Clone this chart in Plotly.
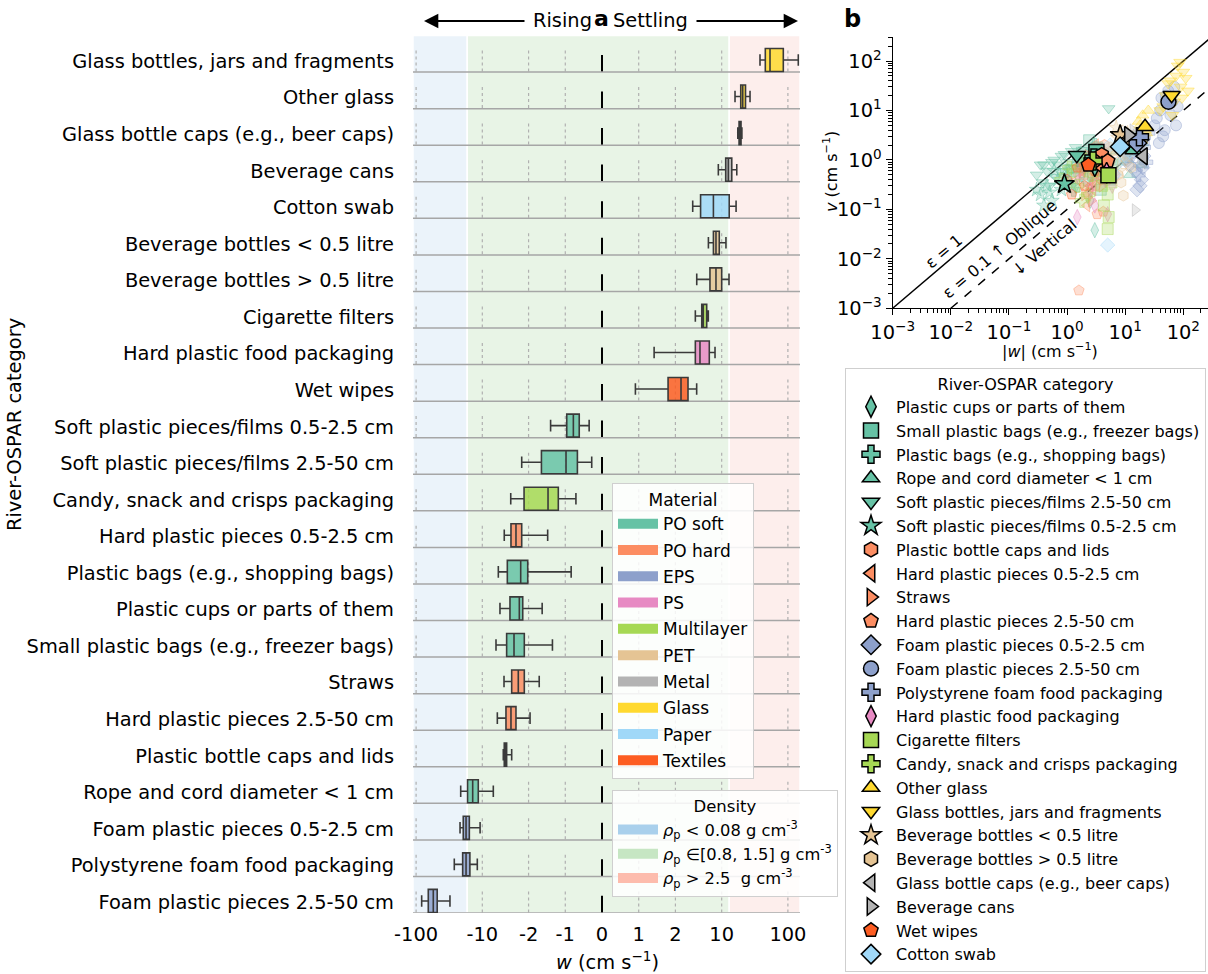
import numpy as np
import plotly.graph_objects as go

W, H = 1208, 974
FONT = "DejaVu Sans"
FS = 19.4

# ---------------- Panel a data ----------------
categories = [
    "Glass bottles, jars and fragments", "Other glass", "Glass bottle caps (e.g., beer caps)",
    "Beverage cans", "Cotton swab", "Beverage bottles < 0.5 litre", "Beverage bottles > 0.5 litre",
    "Cigarette filters", "Hard plastic food packaging", "Wet wipes",
    "Soft plastic pieces/films 0.5-2.5 cm", "Soft plastic pieces/films 2.5-50 cm",
    "Candy, snack and crisps packaging", "Hard plastic pieces 0.5-2.5 cm",
    "Plastic bags (e.g., shopping bags)", "Plastic cups or parts of them",
    "Small plastic bags (e.g., freezer bags)", "Straws", "Hard plastic pieces 2.5-50 cm",
    "Plastic bottle caps and lids", "Rope and cord diameter < 1 cm",
    "Foam plastic pieces 0.5-2.5 cm", "Polystyrene foam food packaging", "Foam plastic pieces 2.5-50 cm",
]
category_material = [
    "Glass", "Glass", "Metal", "Metal", "Paper", "PET", "PET", "Multilayer", "PS", "Textiles",
    "PO soft", "PO soft", "Multilayer", "PO hard", "PO soft", "PO soft", "PO soft", "PO hard",
    "PO hard", "PO hard", "PO soft", "EPS", "EPS", "EPS",
]
w_lower = [37.9, 15.9, 17.5, 8.9, 3.65, 6.3, 4.2, 4.0, 1.42, 0.91, -1.40, -2.54, -3.72, -4.66,
           -5.73, -5.41, -6.21, -4.70, -5.93, -4.82, -21.2, -21.7, -26.5, -82.4]
w_q1 = [45.6, 19.4, 18.3, 11.5, 4.8, 7.5, 6.65, 5.0, 4.0, 1.80, -0.96, -1.65, -2.34, -3.69,
        -4.19, -3.82, -4.29, -3.60, -4.39, -4.66, -16.7, -19.4, -19.8, -65.5]
w_median = [53.7, 20.8, 19.0, 12.6, 7.5, 8.2, 8.2, 5.27, 4.7, 2.43, -0.78, -0.98, -1.47, -3.10,
            -2.63, -2.76, -3.32, -2.86, -3.69, -4.5, -13.97, -17.6, -17.6, -55.0]
w_q3 = [85.3, 22.9, 19.6, 14.2, 13.0, 9.2, 10.0, 5.94, 6.5, 3.1, -0.62, -0.67, -1.19, -2.54,
        -2.06, -2.45, -2.32, -2.32, -3.10, -4.29, -11.5, -15.7, -15.4, -48.0]
w_upper = [143.6, 26.8, 20.2, 16.9, 16.5, 11.6, 12.9, 6.28, 7.93, 4.19, -0.35, -0.28, -0.71, -1.48,
           -0.84, -1.63, -1.35, -1.71, -1.96, -3.60, -6.82, -10.8, -11.9, -30.8]

material_names = ["PO soft", "PO hard", "EPS", "PS", "Multilayer", "PET", "Metal", "Glass", "Paper", "Textiles"]
material_colors = ["#66c2a5", "#fc8d62", "#8da0cb", "#e78ac3", "#a6d854", "#e5c494", "#b3b3b3",
                   "#ffd92f", "#a0d8f8", "#fd5d22"]

density_labels = [
    "<i>ρ</i><sub>p</sub> &lt; 0.08 g cm<sup>-3</sup>",
    "<i>ρ</i><sub>p</sub> ∈[0.8, 1.5] g cm<sup>-3</sup>",
    "<i>ρ</i><sub>p</sub> &gt; 2.5  g cm<sup>-3</sup>",
]
density_swatch_colors = ["#a9d0ec", "#c6e6c3", "#fdbcad"]
density_region_colors = ["#ebf3fa", "#e8f4e6", "#fdeeec"]
density_w_low = [-111.4, -16.9, 13.0]
density_w_high = [-16.9, 13.0, 152.4]
x_range_w = [-111.4, 152.4]

xtick_w = [-100, -10, -2, -1, 0, 1, 2, 10, 100]
xtick_text = ["-100", "-10", "-2", "-1", "0", "1", "2", "10", "100"]

# ---------------- Panel b data ----------------
b_categories = [
    "Plastic cups or parts of them", "Small plastic bags (e.g., freezer bags)",
    "Plastic bags (e.g., shopping bags)", "Rope and cord diameter < 1 cm",
    "Soft plastic pieces/films 2.5-50 cm", "Soft plastic pieces/films 0.5-2.5 cm",
    "Plastic bottle caps and lids", "Hard plastic pieces 0.5-2.5 cm", "Straws",
    "Hard plastic pieces 2.5-50 cm", "Foam plastic pieces 0.5-2.5 cm", "Foam plastic pieces 2.5-50 cm",
    "Polystyrene foam food packaging", "Hard plastic food packaging", "Cigarette filters",
    "Candy, snack and crisps packaging", "Other glass", "Glass bottles, jars and fragments",
    "Beverage bottles < 0.5 litre", "Beverage bottles > 0.5 litre",
    "Glass bottle caps (e.g., beer caps)", "Beverage cans", "Wet wipes", "Cotton swab",
]
b_symbols = ["diamond-tall", "square", "cross", "triangle-up", "triangle-down", "star",
             "hexagon", "triangle-left", "triangle-right", "pentagon", "diamond", "circle",
             "cross", "diamond-tall", "square", "cross", "triangle-up", "triangle-down",
             "star", "hexagon", "triangle-left", "triangle-right", "pentagon", "diamond"]
mean_w = [3.0, 3.2, 2.9, 13.9, 1.47, 0.90, 3.95, 3.5, 3.3, 5.0, 16, 55.6, 17.6, 4.8, 5.15, 2.8,
          22, 63, 8.2, 9.0, 20.6, 11.4, 2.33, 8.2]
mean_v = [0.75, 1.45, 1.1, 1.58, 1.25, 0.325, 1.25, 0.8, 0.95, 0.95, 2.2, 15, 2.94, 0.55, 0.49,
          0.95, 4.7, 20.4, 3.2, 2.0, 1.19, 3.18, 0.79, 1.85]
cloud_w = [
    [1.8, 2.2, 2.8, 3.2, 4.0, 5.0, 2.5, 3.0, 1.4, 2.0, 3.6, 4.5],
    [1.5, 2.0, 2.8, 3.3, 4.5, 5.5, 2.4, 3.8, 1.2, 1.8, 2.6, 4.0],
    [1.0, 1.6, 2.1, 2.7, 3.5, 4.5, 1.3, 5.2, 0.9, 1.9, 3.0],
    [7, 9, 11, 14, 16, 19, 12, 20, 8, 10, 17],
    [0.3, 0.4, 0.5, 0.6, 0.75, 0.9, 1.1, 1.4, 1.8, 2.3, 5.2, 0.35, 0.45, 0.55, 0.65, 0.8,
     1.0, 1.2, 1.6, 0.38, 0.7, 2.0],
    [0.35, 0.45, 0.55, 0.7, 0.8, 1.0, 1.2, 0.6, 0.4, 0.5, 0.9, 0.3],
    [3.7, 4.2, 4.6, 4.0, 4.4, 3.9, 4.1, 4.5],
    [1.5, 2.0, 2.5, 3.0, 3.5, 4.2, 2.2, 3.1, 1.8, 2.8, 3.8],
    [1.8, 2.3, 2.8, 3.4, 4.0, 4.5, 2.6, 2.0, 3.0],
    [2.0, 2.6, 3.1, 3.7, 4.4, 5.5, 4.2, 1.6, 3.3, 2.3, 4.9],
    [11, 13, 15, 17, 19, 21, 16, 14, 12, 18, 20],
    [32, 40, 45, 50, 60, 70, 80, 38, 55, 75, 35, 48, 65, 42],
    [12, 15, 18, 21, 25, 17, 23, 14, 20],
    [1.5, 2.5, 3.5, 4.5, 5.5, 7.0, 1.5, 5.0, 3.0, 6.0],
    [4.0, 4.5, 5.0, 5.5, 6.0, 5.0, 5.2, 4.3, 5.8],
    [0.8, 1.1, 1.5, 2.0, 2.6, 3.2, 1.8, 1.3, 2.3],
    [16, 18, 20, 22, 25, 19, 17, 23],
    [40, 50, 60, 70, 80, 90, 100, 120, 65, 88, 45, 55, 75, 95, 110],
    [6.5, 7.5, 8.5, 9.5, 11, 8, 7, 10],
    [4.5, 6, 7.5, 9, 11, 12.5, 9.3, 5.5, 8.5],
    [18.5, 19, 19.5, 18.8, 19.2, 19.8],
    [9, 10.5, 12, 13.5, 15, 14.8, 11, 16],
    [1.0, 1.5, 2.0, 2.5, 3.0, 3.8, 1.2, 2.8],
    [4, 5.5, 7, 9, 12, 15, 5.0, 6.5, 10],
]
cloud_v = [
    [0.5, 0.9, 0.35, 1.2, 0.6, 0.8, 0.15, 0.038, 0.3, 0.7, 0.45, 1.0],
    [0.7, 1.1, 0.5, 1.8, 0.9, 0.4, 2.5, 0.25, 0.6, 1.4, 0.8, 0.6],
    [0.6, 1.0, 0.4, 1.5, 0.7, 1.2, 0.25, 0.5, 0.35, 0.8, 2.0],
    [1.5, 2.5, 1.0, 3.0, 1.4, 0.8, 0.5, 2.2, 0.9, 1.8, 2.8],
    [0.5, 0.8, 0.3, 1.0, 0.6, 1.3, 0.9, 1.8, 0.7, 1.1, 11, 0.8, 0.6, 0.9, 0.45, 1.2,
     0.7, 1.5, 1.0, 0.35, 0.8, 1.6],
    [0.2, 0.3, 0.15, 0.4, 0.25, 0.5, 0.3, 0.6, 0.12, 0.22, 0.35, 0.25],
    [0.8, 1.5, 0.6, 1.1, 2.0, 0.4, 0.9, 1.3],
    [0.4, 0.8, 0.3, 1.0, 0.5, 0.9, 0.12, 2.0, 0.6, 0.25, 0.7],
    [0.6, 1.2, 0.4, 0.9, 0.3, 0.7, 0.15, 0.2, 0.5],
    [0.5, 0.9, 0.3, 1.3, 0.6, 0.9, 0.09, 0.0023, 0.08, 0.2, 0.4],
    [1.0, 2.0, 0.6, 1.5, 0.4, 1.2, 0.25, 3.0, 0.8, 0.3, 0.7],
    [5, 10, 3, 20, 8, 30, 12, 2.2, 25, 5, 7, 4, 15, 18],
    [1.2, 2.5, 0.8, 1.8, 3.5, 0.5, 0.9, 1.5, 2.2],
    [0.5, 0.25, 0.7, 0.4, 0.9, 0.5, 0.07, 0.08, 0.12, 0.3],
    [0.3, 0.6, 0.2, 0.45, 0.8, 0.04, 0.07, 0.12, 0.35],
    [0.4, 0.7, 0.3, 1.0, 0.5, 0.8, 0.15, 0.6, 0.2],
    [3, 5, 8, 4, 10, 2.5, 6, 3.5],
    [10, 20, 40, 15, 80, 30, 60, 25, 8, 95, 12, 35, 50, 18, 45],
    [1.5, 2.8, 1.0, 2.0, 3.5, 0.6, 4.5, 1.2],
    [0.8, 1.5, 0.5, 2.5, 1.2, 0.7, 0.19, 1.8, 0.35],
    [1.5, 2.5, 0.9, 3.5, 1.2, 2.0],
    [2, 3.5, 1.5, 4, 2.5, 0.097, 1.0, 1.8],
    [0.4, 0.7, 0.3, 1.0, 0.6, 0.9, 0.2, 1.4],
    [1.0, 2.0, 0.8, 3.0, 1.5, 2.5, 0.019, 0.5, 1.2],
]
eps_values = [1.0, 0.1]
eps_dash = ["solid", "dash"]
b_exponents = [-3, -2, -1, 0, 1, 2]

# ---------------- helpers ----------------
LIN = 1.109  # width of the linear part |w|<=2 in decade units (symlog, linthresh 2)


def T(w):
    w = np.asarray(w, dtype=float)
    a = np.abs(w)
    return np.sign(w) * np.where(a <= 2, a / 2 * LIN, LIN + np.log10(np.maximum(a, 1e-12) / 2))


def rgba(hexc, a):
    h = hexc.lstrip("#")
    return f"rgba({int(h[0:2], 16)},{int(h[2:4], 16)},{int(h[4:6], 16)},{a})"


def px(x):
    return x / W


def py(y):
    return 1 - y / H


mat_color = dict(zip(material_names, material_colors))
fig = go.Figure()

# ---------------- Panel a: boxes ----------------
for k, cat in enumerate(categories):
    m = category_material[k]
    col = mat_color[m]
    fig.add_trace(go.Box(
        y=[k + 0.17],
        q1=[float(T(w_q1[k]))], median=[float(T(w_median[k]))], q3=[float(T(w_q3[k]))],
        lowerfence=[float(T(w_lower[k]))], upperfence=[float(T(w_upper[k]))],
        orientation="h", width=0.63, whiskerwidth=0.5,
        fillcolor=rgba(col, 0.85), line=dict(color="#3a3a3a", width=1.6),
        name=cat, legendgroup="m" + m, showlegend=False, boxpoints=False, hoverinfo="skip",
        xaxis="x", yaxis="y",
    ))

# legend swatches (Material, Density)
for r, (m, col) in enumerate(zip(material_names, material_colors)):
    fig.add_trace(go.Scatter(x=[None], y=[None], mode="lines", name=m, legend="legend",
                             line=dict(color=col, width=10), legendgroup="m" + m, legendrank=r,
                             xaxis="x", yaxis="y", showlegend=True))
for r, (name, col) in enumerate(zip(density_labels, density_swatch_colors)):
    fig.add_trace(go.Scatter(x=[None], y=[None], mode="lines", name=name, legend="legend2",
                             line=dict(color=col, width=10), legendgroup="d%d" % r, legendrank=r,
                             xaxis="x", yaxis="y", showlegend=True))

# ---------------- Panel a: decorations (shapes) ----------------
shapes = []
for lo, hi, col in zip(density_w_low, density_w_high, density_region_colors):
    shapes.append(dict(type="rect", xref="x", yref="y domain", x0=float(T(lo)), x1=float(T(hi)),
                       y0=0, y1=1, fillcolor=col, line=dict(color="white", width=1.5), layer="below"))
n_rows = len(categories)
for k in range(n_rows):
    for g in xtick_w:
        if g == 0:
            continue
        shapes.append(dict(type="line", xref="x", yref="y", x0=float(T(g)), x1=float(T(g)),
                           y0=k - 0.09, y1=k + 0.5,
                           line=dict(color="#b0b0b0", width=1.2, dash="3px,3px"), layer="below"))
    shapes.append(dict(type="line", xref="x", yref="y", x0=0, x1=0, y0=k + 0.03, y1=k + 0.5,
                       line=dict(color="black", width=2), layer="below"))
    shapes.append(dict(type="line", xref="x", yref="y", x0=float(T(x_range_w[0])),
                       x1=float(T(x_range_w[1])), y0=k + 0.5, y1=k + 0.5,
                       line=dict(color="#a6a6a6", width=1.5), layer="below"))

# ---------------- Panel b ----------------
for eps, dsh in zip(eps_values, eps_dash):
    xs = np.array([1e-3 / eps, 1e3])
    fig.add_trace(go.Scatter(x=xs, y=eps * xs, mode="lines", xaxis="x2", yaxis="y2",
                             line=dict(color="black", width=1.5, dash=dsh),
                             showlegend=False, hoverinfo="skip"))

b_mat = [category_material[categories.index(c)] for c in b_categories]
for i, cat in enumerate(b_categories):
    col = mat_color[b_mat[i]]
    fig.add_trace(go.Scatter(
        x=cloud_w[i], y=cloud_v[i], mode="markers", xaxis="x2", yaxis="y2",
        marker=dict(symbol=b_symbols[i], size=11, color=rgba(col, 0.28),
                    line=dict(color=rgba(col, 0.45), width=1)),
        showlegend=False, hoverinfo="skip", legendgroup="b" + cat))
for i, cat in enumerate(b_categories):
    col = mat_color[b_mat[i]]
    fig.add_trace(go.Scatter(
        x=[mean_w[i]], y=[mean_v[i]], mode="markers", xaxis="x2", yaxis="y2",
        marker=dict(symbol=b_symbols[i], size=15, color=col, line=dict(color="black", width=1.5)),
        name=cat, legend="legend3", legendgroup="b" + cat, hoverinfo="skip"))

b_tickvals = [10.0 ** p for p in b_exponents]
b_ticktext = [f"10<sup>{'−' if p < 0 else ''}{abs(p)}</sup>" for p in b_exponents]
b_minor = [d * 10.0 ** p for p in range(-3, 3) for d in range(2, 10)]

# ---------------- annotations ----------------
def note(text, x, y, size, angle=0, **kw):
    d = dict(text=text, x=px(x), y=py(y), xref="paper", yref="paper", showarrow=False,
             xanchor="center", yanchor="middle", textangle=angle, font=dict(size=size))
    d.update(kw)
    return d


ann = [
    note("<b>a</b>", 601, 19, 22),
    note("<b>b</b>", 852, 19, 24),
    note("Rising", 562, 21, FS),
    note("Settling", 650, 21, FS),
    note("<i>w</i> (cm s<sup>−1</sup>)", 607, 961, FS),
    note("River-OSPAR category", 14, 425, FS, -90),
    note("|<i>w</i>| (cm s<sup>−1</sup>)", 1050, 351, 16),
    note("<i>v</i> (cm s<sup>−1</sup>)", 830, 172, 16, -90),
    note("ε = 1", 944, 252, 16, -40),
    note("ε = 0.1 ↑ Oblique", 999, 249, 16, -40),
    note("↓ Vertical", 1044, 247, 16, -40),
]
ann.append(dict(text="", x=px(424), y=py(21), ax=102, ay=0, xref="paper", yref="paper",
                axref="pixel", ayref="pixel", showarrow=True, arrowhead=2, arrowsize=1.3,
                arrowwidth=2.2, arrowcolor="black"))
ann.append(dict(text="", x=px(798), y=py(21), ax=-103, ay=0, xref="paper", yref="paper",
                axref="pixel", ayref="pixel", showarrow=True, arrowhead=2, arrowsize=1.3,
                arrowwidth=2.2, arrowcolor="black"))

legend_common = dict(xanchor="left", yanchor="top", bgcolor="rgba(255,255,255,0.85)",
                     bordercolor="#cfcfcf", borderwidth=1, traceorder="grouped")

fig.update_layout(
    width=W, height=H, margin=dict(l=0, r=0, t=0, b=0, autoexpand=False),
    paper_bgcolor="white", plot_bgcolor="white",
    font=dict(family=FONT, size=FS, color="black"),
    showlegend=True,
    xaxis=dict(domain=[px(413), px(800)], range=[float(T(x_range_w[0])), float(T(x_range_w[1]))],
               tickmode="array", tickvals=[float(v) for v in T(xtick_w)], ticktext=xtick_text,
               ticks="", ticklabelstandoff=8, showgrid=False, zeroline=False, showline=False,
               tickfont=dict(size=FS), anchor="y", automargin=False),
    yaxis=dict(domain=[py(913), py(35.5)], range=[n_rows - 0.5, -0.5],
               tickmode="array", tickvals=[k + 0.2 for k in range(n_rows)], ticktext=categories,
               ticks="", ticklabelstandoff=18, showgrid=False, zeroline=False, showline=False,
               tickfont=dict(size=FS), anchor="x", automargin=False),
    xaxis2=dict(domain=[px(892.7), 1.0], type="log", range=[-3, 2.425], anchor="y2",
                tickmode="array", tickvals=b_tickvals, ticktext=b_ticktext,
                showline=True, linecolor="black", linewidth=1.3, ticks="outside", ticklen=6,
                tickwidth=1.3, tickcolor="black", showgrid=False, zeroline=False,
                minor=dict(tickmode="array", tickvals=b_minor, ticks="outside", ticklen=3.5,
                           tickwidth=1, tickcolor="black", showgrid=False),
                tickfont=dict(size=FS), automargin=False),
    yaxis2=dict(domain=[py(308.3), py(37.3)], type="log", range=[-3, 2.48], anchor="x2",
                tickmode="array", tickvals=b_tickvals, ticktext=b_ticktext,
                showline=True, linecolor="black", linewidth=1.3, ticks="outside", ticklen=6,
                tickwidth=1.3, tickcolor="black", showgrid=False, zeroline=False,
                minor=dict(tickmode="array", tickvals=b_minor, ticks="outside", ticklen=3.5,
                           tickwidth=1, tickcolor="black", showgrid=False),
                tickfont=dict(size=FS), automargin=False),
    legend=dict(x=px(612), y=py(483), font=dict(size=17), tracegroupgap=1.2, itemwidth=40,
                title=dict(text="Material", side="top center", font=dict(size=17)), **legend_common),
    legend2=dict(x=px(612), y=py(790), font=dict(size=16.3), tracegroupgap=0, itemwidth=40,
                 title=dict(text="Density", side="top center", font=dict(size=16.5)), **legend_common),
    legend3=dict(x=px(845), y=py(368), font=dict(size=16), tracegroupgap=0, itemwidth=40,
                 title=dict(text="River-OSPAR category", side="top center", font=dict(size=16)),
                 **legend_common),
    shapes=shapes,
    annotations=ann,
)

fig.write_html("out.html", post_script="document.body.style.margin='0px';",
               config={"displayModeBar": False})
